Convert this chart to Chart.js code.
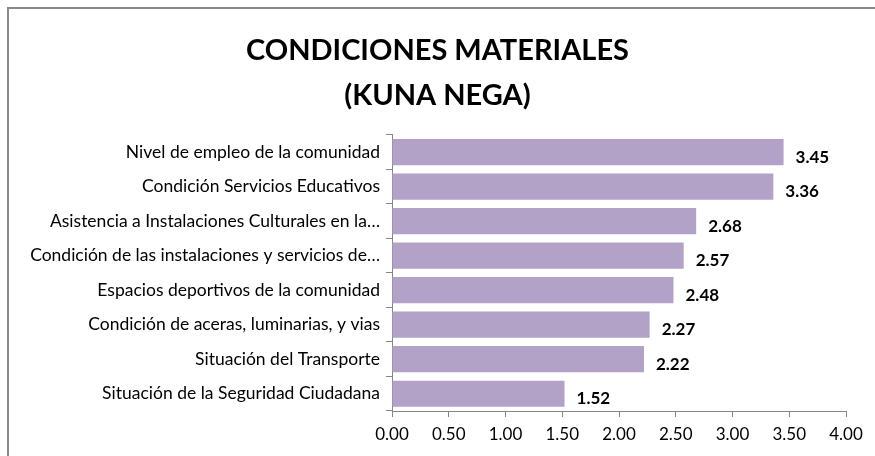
<!DOCTYPE html>
<html>
<head>
<meta charset="utf-8">
<script src="https://cdn.jsdelivr.net/npm/chart.js@4/dist/chart.umd.min.js"></script>
<style>
    html, body { margin: 0; padding: 0; background: #fff; }
    canvas { display: block; }
</style>
</head>
<body>
<canvas id="cchart" width="875" height="456"></canvas>
<script>
// Chart data
let categories = [
    "Nivel de empleo de la comunidad",
    "Condición Servicios Educativos",
    "Asistencia a Instalaciones Culturales en la…",
    "Condición de las instalaciones y servicios de…",
    "Espacios deportivos de la comunidad",
    "Condición de aceras, luminarias, y vias",
    "Situación del Transporte",
    "Situación de la Seguridad Ciudadana"
];
let values = [3.45, 3.36, 2.68, 2.57, 2.48, 2.27, 2.22, 1.52];
let titleLines = ["CONDICIONES MATERIALES", "(KUNA NEGA)"];
let xMin = 0;
let xMax = 4;
let xStep = 0.5;

let FONT = "Lato, 'Open Sans', sans-serif";
let AXIS_GRAY = "#868686";

/*
    Draw the grey frame around the chart
*/
let framePlugin = {
    id: "frame",
    beforeDraw(chart) {
        let ctx = chart.ctx;
        ctx.save();
        ctx.fillStyle = "#ffffff";
        ctx.fillRect(0, 0, chart.width, chart.height);
        ctx.strokeStyle = "#8a8a8a";
        ctx.lineWidth = 2;
        ctx.strokeRect(8, 8, chart.width + 10, chart.height + 10);
        ctx.restore();
    }
};

/*
    Value labels at the end of each bar
*/
let valueLabelPlugin = {
    id: "valueLabels",
    afterDatasetsDraw(chart) {
        let ctx = chart.ctx;
        let meta = chart.getDatasetMeta(0);
        ctx.save();
        ctx.font = "bold 17px " + FONT;
        ctx.fillStyle = "#000000";
        ctx.textAlign = "left";
        ctx.textBaseline = "middle";
        meta.data.forEach((bar, i) => {
            ctx.fillText(values[i].toFixed(2), bar.x + 12, bar.y + 5);
        });
        ctx.restore();
    }
};

let UICanvasChart = document.getElementById("cchart");
let _chart = new Chart(UICanvasChart.getContext("2d"), {
    type: "bar",
    data: {
        labels: categories,
        datasets: [{
            label: "Condiciones materiales",
            data: values,
            backgroundColor: "#b3a2c7",
            borderWidth: 0,
            categoryPercentage: 1.0,
            barPercentage: 0.76
        }]
    },
    options: {
        indexAxis: "y",
        responsive: false,
        animation: false,
        layout: { padding: { left: 29, right: 29, top: 0, bottom: 0 } },
        plugins: {
            legend: { display: false },
            tooltip: { enabled: false },
            title: {
                display: true,
                text: titleLines,
                color: "#000000",
                font: { family: FONT, size: 29, weight: "bold", lineHeight: 1.55 },
                padding: { top: 28, bottom: 17 }
            }
        },
        scales: {
            x: {
                min: xMin,
                max: xMax,
                ticks: {
                    stepSize: xStep,
                    color: "#000000",
                    font: { family: FONT, size: 17 },
                    padding: 7,
                    callback: (v) => Number(v).toFixed(2)
                },
                grid: {
                    drawOnChartArea: false,
                    drawTicks: true,
                    tickLength: 6,
                    color: AXIS_GRAY
                },
                border: { display: true, color: AXIS_GRAY, width: 1 },
                afterFit(scale) { scale.height = 45; }
            },
            y: {
                ticks: {
                    color: "#000000",
                    font: { family: FONT, size: 17.5 },
                    padding: 6,
                    autoSkip: false
                },
                grid: {
                    drawOnChartArea: false,
                    drawTicks: true,
                    tickLength: 6,
                    offset: true,
                    color: AXIS_GRAY
                },
                border: { display: true, color: AXIS_GRAY, width: 1 },
                afterFit(scale) { scale.width = 363; }
            }
        }
    },
    plugins: [framePlugin, valueLabelPlugin]
});
</script>
</body>
</html>
